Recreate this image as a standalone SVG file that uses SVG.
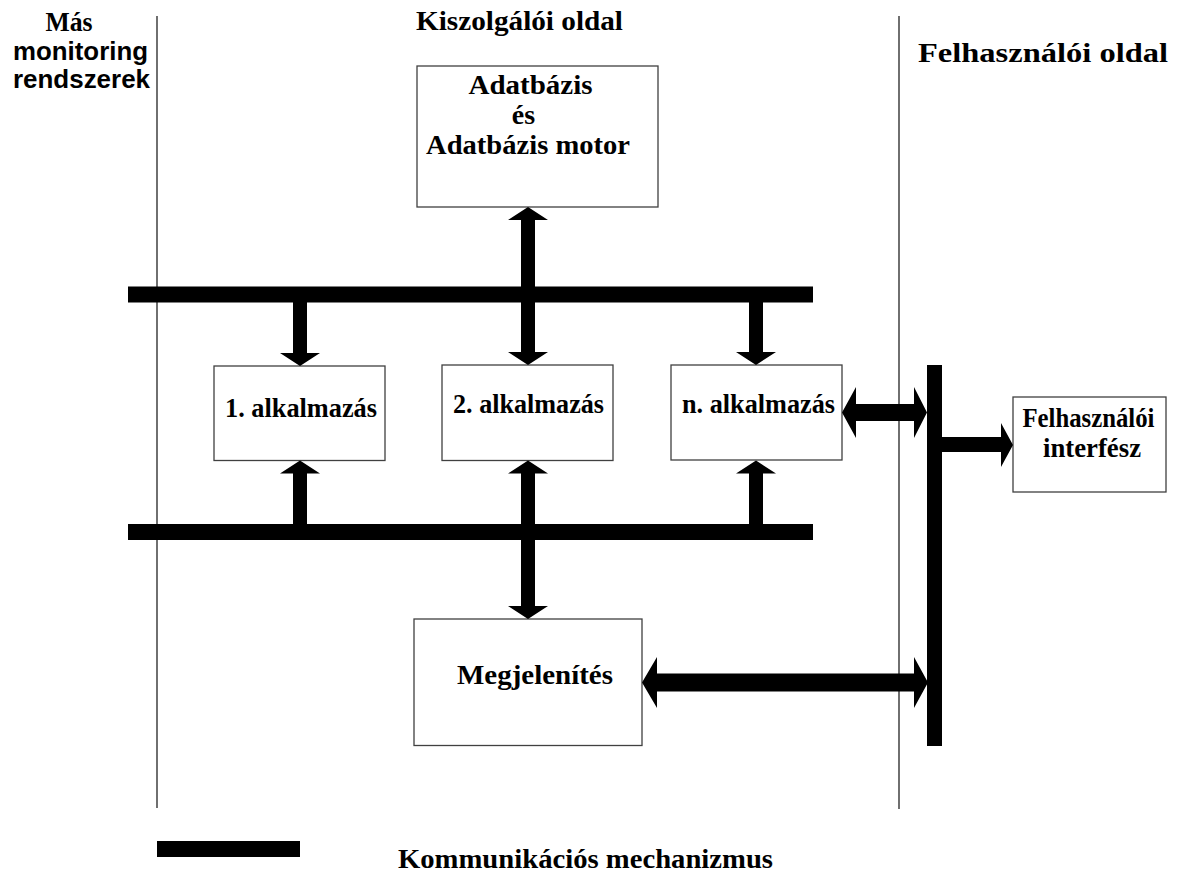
<svg xmlns="http://www.w3.org/2000/svg" width="1187" height="872" viewBox="0 0 1187 872">
<style>
.bg{fill:#ffffff}
.box{fill:#ffffff;stroke:#404040;stroke-width:1.3}
.thin{stroke:#222222;stroke-width:1.3;fill:none}
.bus{fill:#000000}
.arr{fill:#000000}
.t{font-family:"Liberation Serif","Times New Roman",serif;font-weight:bold;font-size:28px;fill:#000000}
.s{font-family:"Liberation Sans",Arial,sans-serif;font-weight:bold;font-size:26px;fill:#000000}
.m{text-anchor:middle}
</style>
<rect class="bg" x="0" y="0" width="1187" height="872"/>
<g id="separators">
<line class="thin" x1="157" y1="16" x2="157" y2="808"/>
<line class="thin" x1="899" y1="16" x2="899" y2="809"/>
</g>
<g id="headings">
<text class="t" x="69" y="31" text-anchor="middle" font-size="24" textLength="47" lengthAdjust="spacingAndGlyphs">Más</text>
<text class="s" x="13" y="60" textLength="135" lengthAdjust="spacingAndGlyphs">monitoring</text>
<text class="s" x="13" y="88" textLength="137" lengthAdjust="spacingAndGlyphs">rendszerek</text>
<text class="t" x="416" y="30" textLength="207" lengthAdjust="spacingAndGlyphs">Kiszolgálói oldal</text>
<text class="t" x="918" y="62" textLength="250" lengthAdjust="spacingAndGlyphs">Felhasználói oldal</text>
</g>
<g id="node-db">
<rect class="box" x="417" y="66" width="241" height="141"/>
<text class="t m" x="530.5" y="94" textLength="124" lengthAdjust="spacingAndGlyphs">Adatbázis</text>
<text class="t m" x="523.5" y="124">és</text>
<text class="t m" x="528" y="154" textLength="204" lengthAdjust="spacingAndGlyphs">Adatbázis motor</text>
</g>
<g id="node-app1">
<rect class="box" x="214" y="366" width="171" height="94.5"/>
<text class="t" x="225" y="417" textLength="152" lengthAdjust="spacingAndGlyphs">1. alkalmazás</text>
</g>
<g id="node-app2">
<rect class="box" x="442" y="365" width="171" height="95.5"/>
<text class="t" x="453" y="413" textLength="151" lengthAdjust="spacingAndGlyphs">2. alkalmazás</text>
</g>
<g id="node-appn">
<rect class="box" x="671" y="365" width="171" height="95"/>
<text class="t" x="682" y="413" textLength="153" lengthAdjust="spacingAndGlyphs">n. alkalmazás</text>
</g>
<g id="node-ui">
<rect class="box" x="1013" y="397" width="153" height="95"/>
<text class="t m" x="1088.5" y="427" font-size="26" textLength="132" lengthAdjust="spacingAndGlyphs">Felhasználói</text>
<text class="t m" x="1092" y="457" font-size="26" textLength="98" lengthAdjust="spacingAndGlyphs">interfész</text>
</g>
<g id="node-display">
<rect class="box" x="414" y="619" width="228" height="126.5"/>
<text class="t" x="457" y="684" textLength="156" lengthAdjust="spacingAndGlyphs">Megjelenítés</text>
</g>
<g id="connectors">
<rect class="bus" x="128" y="286.5" width="685" height="16"/>
<rect class="bus" x="128" y="524" width="685" height="16"/>
<rect class="bus" x="927" y="365" width="15" height="381"/>
<polygon class="arr" points="528,207 548,220 535,220 535,352 548,352 528,365 508,352 521,352 521,220 508,220"/>
<polygon class="arr" points="528,460.5 548,473.5 535,473.5 535,606 548,606 528,619 508,606 521,606 521,473.5 508,473.5"/>
<polygon class="arr" points="293,302 307,302 307,353 320,353 300,366 280,353 293,353"/>
<polygon class="arr" points="749,302 763,302 763,352 776,352 756,365 736,352 749,352"/>
<polygon class="arr" points="293,524 307,524 307,473.5 320,473.5 300,460.5 280,473.5 293,473.5"/>
<polygon class="arr" points="749,524 763,524 763,473.5 776,473.5 756,460.5 736,473.5 749,473.5"/>
<polygon class="arr" points="842,412.5 856,387 856,404 914,404 914,387 927,412.5 914,438 914,421 856,421 856,438"/>
<polygon class="arr" points="642,682.5 657,657 657,673.5 914,673.5 914,657 928,682.5 914,708 914,691.5 657,691.5 657,708"/>
<polygon class="arr" points="942,437 1001,437 1001,423 1013,445 1001,467 1001,452 942,452"/>
</g>
<g id="legend">
<rect class="bus" x="157" y="841" width="143" height="16"/>
<text class="t" x="398" y="868" textLength="375" lengthAdjust="spacingAndGlyphs">Kommunikációs mechanizmus</text>
</g>
</svg>
